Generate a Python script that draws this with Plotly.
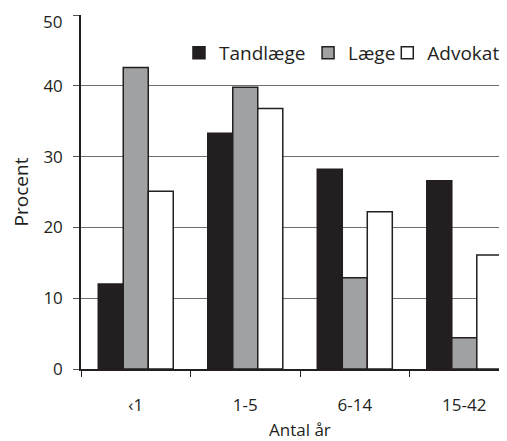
import plotly.graph_objects as go

categories = ["‹1", "1-5", "6-14", "15-42"]
tandlaege = [12.0, 33.3, 28.2, 26.6]
laege = [42.6, 39.8, 12.9, 4.4]
advokat = [25.1, 36.8, 22.2, 16.1]
y_tick_vals = [0, 10, 20, 30, 40, 50]
y_tick_labels = ["0", "10", "20", "30", "40", "50"]

FONT = "Open Sans"
INK = "#231f20"

fig = go.Figure()
fig.add_bar(name="Tandlæge", x=categories, y=tandlaege, legend="legend",
            marker=dict(color=INK, line=dict(color=INK, width=1.5)))
fig.add_bar(name="Læge", x=categories, y=laege, legend="legend2",
            marker=dict(color="#a0a1a3", line=dict(color=INK, width=1.5)))
fig.add_bar(name="Advokat", x=categories, y=advokat, legend="legend3",
            marker=dict(color="#ffffff", line=dict(color=INK, width=1.5)))

leg_common = dict(orientation="h", y=0.8927, xanchor="left", yanchor="middle",
                  font=dict(size=19, family=FONT, color=INK),
                  bgcolor="rgba(0,0,0,0)", itemwidth=30)

# top label is drawn separately (shifted below its gridline, as in the reference)
shown_labels = y_tick_labels[:-1] + [""]

fig.update_layout(
    width=499, height=433,
    margin=dict(l=73, r=0, t=7, b=72, autoexpand=False),
    paper_bgcolor="white", plot_bgcolor="white",
    barmode="group", bargap=0.315, bargroupgap=0,
    font=dict(family=FONT, color=INK, size=17),
    showlegend=True,
    legend=dict(x=0.2300, **leg_common),
    legend2=dict(x=0.5330, **leg_common),
    legend3=dict(x=0.7190, **leg_common),
    xaxis=dict(type="category", range=[-0.5, 3.39], showline=True, linecolor=INK, linewidth=1.5,
               ticks="outside", tickson="boundaries", ticklen=6, tickcolor=INK, tickwidth=1,
               showgrid=False, ticklabelstandoff=20, automargin=False,
               tickfont=dict(size=17, family=FONT, color=INK)),
    yaxis=dict(range=[0, y_tick_vals[-1]], tickmode="array", tickvals=y_tick_vals, ticktext=shown_labels,
               showline=True, linecolor=INK, linewidth=1.5,
               ticks="outside", ticklen=6, tickcolor="#555555", tickwidth=1,
               showgrid=True, gridcolor="#6d6e70", gridwidth=1, zeroline=False,
               ticklabelstandoff=7, ticklabeloverflow="allow", automargin=False,
               tickfont=dict(size=17, family=FONT, color=INK),
               title=dict(text="Procent", font=dict(size=19, family=FONT, color=INK), standoff=12)),
)

fig.add_annotation(text=y_tick_labels[-1], xref="paper", yref="paper",
                   x=(56 - 73) / 426, y=(361 - 13.5) / 354, xanchor="right", yanchor="middle",
                   showarrow=False, font=dict(size=17, family=FONT, color=INK))

fig.add_annotation(text="Antal år", xref="paper", yref="paper",
                   x=(292 - 73) / 426, y=-(422 - 361) / 354, xanchor="center", yanchor="middle",
                   showarrow=False, font=dict(size=17, family=FONT, color=INK))

fig.write_html("out.html")
